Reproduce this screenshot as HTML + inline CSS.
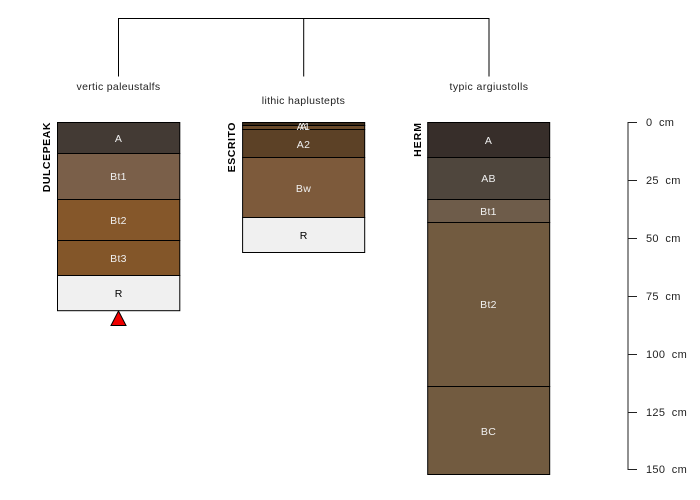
<!DOCTYPE html>
<html><head><meta charset="utf-8"><style>
html,body{margin:0;padding:0;background:#fff;width:700px;height:500px;overflow:hidden}
svg{display:block}
text{font-family:"Liberation Sans",sans-serif;font-size:10.5px}
.w{fill:#f0f0f0;text-anchor:middle;letter-spacing:.3px}
.k{fill:#000;text-anchor:middle}
.g{fill:#222;text-anchor:middle;letter-spacing:.32px}
.n{font-weight:bold;font-size:10.5px;fill:#000;text-anchor:end;letter-spacing:.55px}
.s{fill:#222;font-size:11px;letter-spacing:.3px;word-spacing:3.2px}
rect{stroke:#000;stroke-width:1}
</style></head><body>
<svg width="700" height="500" viewBox="0 0 700 500" xmlns="http://www.w3.org/2000/svg">
<path d="M118.5 76.5V18.5H489V76.5M303.7 18.5V76.5" fill="none" stroke="#000"/>
<text class="g" x="118.5" y="90">vertic paleustalfs</text>
<text class="g" x="303.5" y="104">lithic haplustepts</text>
<text class="g" x="489" y="90" style="letter-spacing:.42px">typic argiustolls</text>

<rect x="57.5" y="122.5" width="122.3" height="31" fill="#433a34"/>
<rect x="57.5" y="153.5" width="122.3" height="46" fill="#7a5f49"/>
<rect x="57.5" y="199.5" width="122.3" height="41" fill="#85572a"/>
<rect x="57.5" y="240.5" width="122.3" height="35" fill="#835629"/>
<rect x="57.5" y="275.5" width="122.3" height="35.2" fill="#f0f0f0"/>
<text class="w" x="118.5" y="142">A</text>
<text class="w" x="118.5" y="180">Bt1</text>
<text class="w" x="118.5" y="224">Bt2</text>
<text class="w" x="118.5" y="262">Bt3</text>
<text class="k" x="118.5" y="297">R</text>
<text class="n" transform="translate(50,122) rotate(-90)" dx="0">DULCEPEAK</text>
<polygon points="118.5,311 126,325.5 111,325.5" fill="#f00000" stroke="#000" stroke-width="1"/>

<rect x="242.6" y="122.5" width="122.1" height="3" fill="#3b2a18"/>
<rect x="242.6" y="125.5" width="122.1" height="4" fill="#6a4a2a"/>
<rect x="242.6" y="129.5" width="122.1" height="28" fill="#5c4126"/>
<rect x="242.6" y="157.5" width="122.1" height="60" fill="#7d5a3b"/>
<rect x="242.6" y="217.5" width="122.1" height="35" fill="#f0f0f0"/>
<text class="w" x="303.5" y="130">A1</text>
<text class="w" x="303.5" y="130">A</text>
<text class="w" x="303.5" y="148">A2</text>
<text class="w" x="303.5" y="192">Bw</text>
<text class="k" x="303.5" y="239">R</text>
<text class="n" transform="translate(235,122) rotate(-90)">ESCRITO</text>

<rect x="427.7" y="122.5" width="122" height="35" fill="#372e2a"/>
<rect x="427.7" y="157.5" width="122" height="42" fill="#4f463d"/>
<rect x="427.7" y="199.5" width="122" height="23" fill="#6e5c4a"/>
<rect x="427.7" y="222.5" width="122" height="164" fill="#725b40"/>
<rect x="427.7" y="386.5" width="122" height="88" fill="#725b40"/>
<text class="w" x="488.5" y="144">A</text>
<text class="w" x="488.5" y="182">AB</text>
<text class="w" x="488.5" y="215">Bt1</text>
<text class="w" x="488.5" y="308">Bt2</text>
<text class="w" x="488.5" y="435">BC</text>
<text class="n" transform="translate(421,122) rotate(-90)" style="letter-spacing:1px">HERM</text>

<path d="M637 122.5H628M637 180.5H628M637 238.5H628M637 296.5H628M637 354.5H628M637 412.5H628M637 469.5H628" stroke="#222" fill="none"/>
<path d="M628 122V470" stroke="#222" stroke-width="1" fill="none"/>
<text class="s" x="646" y="126">0 cm</text>
<text class="s" x="646" y="184">25 cm</text>
<text class="s" x="646" y="242">50 cm</text>
<text class="s" x="646" y="300">75 cm</text>
<text class="s" x="646" y="358">100 cm</text>
<text class="s" x="646" y="416">125 cm</text>
<text class="s" x="646" y="473">150 cm</text>
</svg>
</body></html>
